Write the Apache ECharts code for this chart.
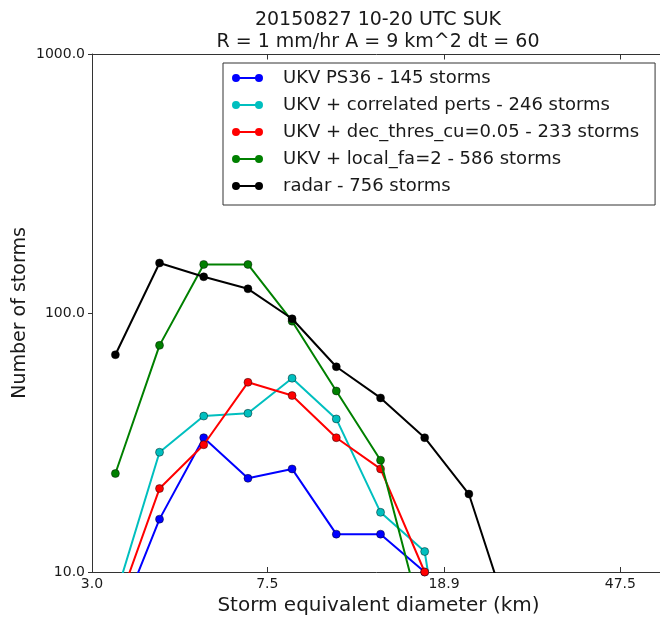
<!DOCTYPE html>
<html>
<head>
<meta charset="utf-8">
<script src="https://cdn.jsdelivr.net/npm/echarts@6/dist/echarts.min.js"></script>
<style>
html,body{margin:0;padding:0;background:#fff;overflow:hidden;}
#chart{width:660px;height:619px;}
</style>
</head>
<body>
<div id="chart"></div>
<script>
// Data
const diameters = [3.39, 4.27, 5.38, 6.78, 8.54, 10.76, 13.56, 17.08, 21.52, 27.1];
const ukvPS36 = [6, 16, 33, 23, 25, 14, 14, 10];
const ukvCorrelated = [8, 29, 40, 41, 56, 39, 17, 12, 1];
const ukvDecThres = [7, 21, 31, 54, 48, 33, 25, 10];
const ukvLocalFa = [24, 75, 154, 154, 93, 50, 27, 6];
const radar = [69, 156, 138, 124, 95, 62, 47, 33, 20, 6];
const seriesNames = [
  'UKV PS36 - 145 storms',
  'UKV + correlated perts - 246 storms',
  'UKV + dec_thres_cu=0.05 - 233 storms',
  'UKV + local_fa=2 - 586 storms',
  'radar - 756 storms'
];
const xTickValues = [3.0, 7.5, 18.9, 47.5];
const yTickLabels = ['10.0', '100.0', '1000.0'];

const FONT = 'DejaVu Sans';
const colors = ['#0000ff', '#00bfbf', '#ff0000', '#008000', '#000000'];
const allValues = [ukvPS36, ukvCorrelated, ukvDecThres, ukvLocalFa, radar];

const chart = echarts.init(document.getElementById('chart'), null, {renderer: 'canvas'});

const iconPath = 'path://M0,4 A4,4 0 1,1 8,4 A4,4 0 1,1 0,4 Z M7,3 L24,3 L24,5 L7,5 Z M23,4 A4,4 0 1,1 31,4 A4,4 0 1,1 23,4 Z';

const series = allValues.map((vals, si) => ({
  name: seriesNames[si],
  type: 'line',
  xAxisIndex: 0,
  yAxisIndex: 0,
  data: vals.map((v, i) => [diameters[i], v]),
  symbol: 'circle',
  symbolSize: 8,
  clip: true,
  lineStyle: {color: colors[si], width: 2},
  itemStyle: {color: colors[si], borderColor: 'rgba(0,0,0,0.55)', borderWidth: 0.8},
  emphasis: {disabled: true},
  animation: false,
  z: 2 + si
}));

const option = {
  animation: false,
  backgroundColor: '#ffffff',
  color: colors,
  title: [
    {
      text: '20150827 10-20 UTC SUK',
      left: 378, top: 10, textAlign: 'center', padding: 0,
      textStyle: {fontFamily: FONT, fontSize: 19, fontWeight: 'normal', color: '#1a1a1a', lineHeight: 20}
    },
    {
      text: 'R = 1 mm/hr A = 9 km^2 dt = 60',
      left: 378, top: 32, textAlign: 'center', padding: 0,
      textStyle: {fontFamily: FONT, fontSize: 19, fontWeight: 'normal', color: '#1a1a1a', lineHeight: 20}
    }
  ],
  legend: {
    orient: 'vertical',
    left: 223,
    top: 63,
    padding: [5, 16, 9, 9],
    itemGap: 7,
    itemWidth: 31,
    itemHeight: 8,
    icon: iconPath,
    backgroundColor: '#ffffff',
    borderColor: '#333333',
    borderWidth: 1,
    borderRadius: 0,
    itemStyle: {borderWidth: 0},
    selectedMode: false,
    data: seriesNames,
    textStyle: {fontFamily: FONT, fontSize: 18, color: '#1a1a1a', lineHeight: 20, padding: [0, 0, 0, 15]}
  },
  grid: {
    left: 92, top: 54, width: 573, height: 518,
    containLabel: false, outerBoundsMode: 'none', show: false
  },
  xAxis: [{
    type: 'log',
    logBase: 10,
    min: 3.0,
    max: 60,
    position: 'bottom',
    name: 'Storm equivalent diameter (km)',
    nameLocation: 'middle',
    nameGap: 24,
    nameMoveOverlap: false,
    nameTextStyle: {fontFamily: FONT, fontSize: 20, color: '#1a1a1a'},
    axisLine: {show: true, onZero: false, lineStyle: {color: '#333', width: 1}},
    axisTick: {show: true, inside: true, length: 5, customValues: xTickValues, lineStyle: {color: '#333'}},
    axisLabel: {
      show: true, customValues: xTickValues, margin: 5,
      fontFamily: FONT, fontSize: 14, color: '#1a1a1a',
      formatter: v => Number(v).toFixed(1)
    },
    splitLine: {show: false},
    minorTick: {show: false},
    minorSplitLine: {show: false}
  }],
  yAxis: [{
    type: 'log',
    logBase: 10,
    min: 10,
    max: 1000,
    name: 'Number of storms',
    nameLocation: 'middle',
    nameGap: 62,
    nameMoveOverlap: false,
    nameTextStyle: {fontFamily: FONT, fontSize: 19, color: '#1a1a1a'},
    axisLine: {show: true, onZero: false, lineStyle: {color: '#333', width: 1}},
    axisTick: {show: true, inside: false, length: 4, lineStyle: {color: '#333'}},
    axisLabel: {
      margin: 7, fontFamily: FONT, fontSize: 14, color: '#1a1a1a',
      formatter: v => {
        const s = Number(v).toFixed(1);
        return yTickLabels.indexOf(s) >= 0 ? s : '';
      }
    },
    splitLine: {show: false},
    minorTick: {show: false},
    minorSplitLine: {show: false}
  }],
  series: series
};

chart.setOption(option);

// Top frame line and mirrored inside ticks, positioned through the axis scales
const yTop = Math.round(chart.convertToPixel({yAxisIndex: 0}, 1000)) + 0.5;
const xLeft = chart.convertToPixel({xAxisIndex: 0}, 3.0);
const xRight = chart.convertToPixel({xAxisIndex: 0}, 60);
const frameGraphics = [{
  type: 'line',
  silent: true,
  z: 50,
  shape: {x1: xLeft, y1: yTop, x2: xRight, y2: yTop},
  style: {stroke: '#333', lineWidth: 1}
}];
xTickValues.forEach(v => {
  const px = Math.round(chart.convertToPixel({xAxisIndex: 0}, v)) + 0.5;
  frameGraphics.push({
    type: 'line',
    silent: true,
    z: 50,
    shape: {x1: px, y1: yTop, x2: px, y2: yTop + 5},
    style: {stroke: '#333', lineWidth: 1}
  });
});
chart.setOption({graphic: frameGraphics});
</script>
</body>
</html>
